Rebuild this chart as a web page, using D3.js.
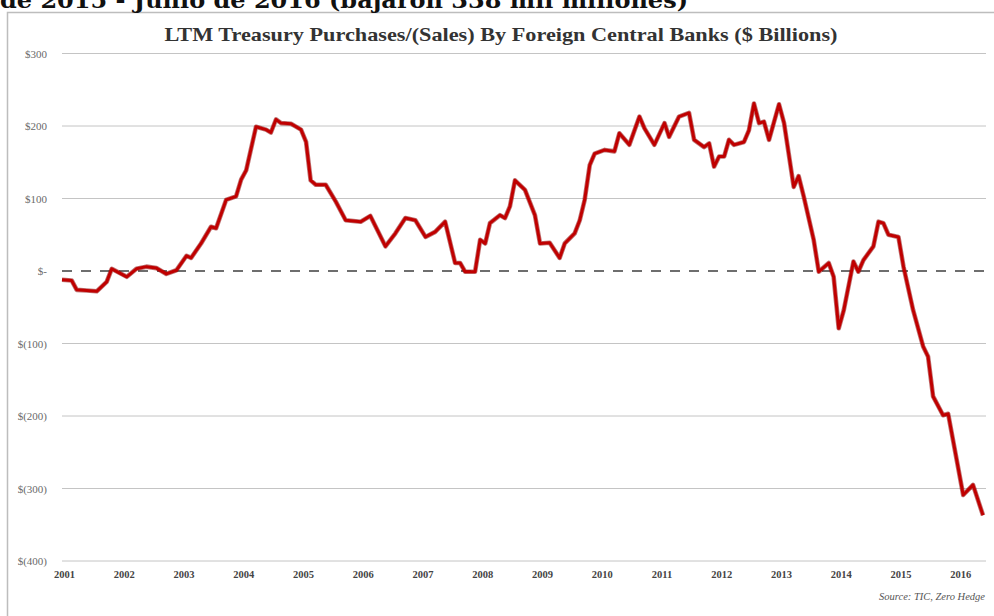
<!DOCTYPE html>
<html><head><meta charset="utf-8">
<script src="https://cdn.jsdelivr.net/npm/d3@7"></script>
<style>body{margin:0;background:#fff}svg{display:block}</style>
</head><body>
<svg id="c" width="994" height="616"></svg>
<script>
const months = ["2001-01","2001-03","2001-04","2001-06","2001-08","2001-10","2001-11","2002-02","2002-04","2002-06","2002-08","2002-10","2002-12","2003-02","2003-03","2003-05","2003-07","2003-08","2003-10","2003-12","2004-01","2004-02","2004-04","2004-06","2004-07","2004-08","2004-09","2004-11","2005-01","2005-02","2005-03","2005-04","2005-06","2005-08","2005-10","2006-01","2006-03","2006-06","2006-08","2006-10","2006-12","2007-02","2007-04","2007-06","2007-08","2007-09","2007-10","2007-12","2008-01","2008-02","2008-03","2008-05","2008-06","2008-07","2008-08","2008-10","2008-12","2009-01","2009-03","2009-05","2009-06","2009-08","2009-09","2009-10","2009-11","2009-12","2010-02","2010-04","2010-05","2010-07","2010-09","2010-10","2010-12","2011-02","2011-03","2011-05","2011-07","2011-08","2011-10","2011-11","2011-12","2012-01","2012-02","2012-03","2012-04","2012-06","2012-07","2012-08","2012-09","2012-10","2012-11","2013-01","2013-02","2013-04","2013-05","2013-06","2013-08","2013-09","2013-11","2013-12","2014-01","2014-02","2014-04","2014-05","2014-06","2014-08","2014-09","2014-10","2014-11","2015-01","2015-02","2015-04","2015-06","2015-07","2015-08","2015-10","2015-11","2016-02","2016-04","2016-06"];
const purchases = [-12,-13,-26,-27,-28,-15,3,-8,3,6,4,-4,1,21,18,38,61,59,98,103,126,139,199,195,191,209,204,203,195,178,125,119,119,96,70,68,76,34,52,73,70,47,54,68,11,11,-1,-1,43,38,66,77,73,89,125,112,77,38,39,18,38,52,70,98,146,162,167,165,190,174,213,197,174,204,185,213,218,181,171,176,144,158,158,181,174,178,194,231,204,206,181,230,204,116,131,103,43,-1,11,-8,-79,-54,13,-1,15,34,68,66,50,47,6,-54,-104,-118,-173,-199,-197,-309,-295,-337];
const yTicks = [300,200,100,0,-100,-200,-300,-400];
const yTickLabels = ["$300","$200","$100","$-","$(100)","$(200)","$(300)","$(400)"];
const yearLabels = ["2001","2002","2003","2004","2005","2006","2007","2008","2009","2010","2011","2012","2013","2014","2015","2016"];
const headline = "de 2015 - Junio de 2016 (bajaron 338 mil millones)";
const chartTitle = "LTM Treasury Purchases/(Sales) By Foreign Central Banks ($ Billions)";
const sourceText = "Source: TIC, Zero Hedge";

const parse = d3.timeParse("%Y-%m");
const data = months.map((m,i)=>({date:parse(m), v:purchases[i]}));
const svg = d3.select("#c");

// frame
svg.append("rect").attr("x",7.5).attr("y",12.5).attr("width",990).attr("height",620)
  .attr("fill","#fff").attr("stroke","#bdbdbd").attr("stroke-width",1.5);

// headline (cut at top, as in the reference)
svg.append("text").attr("x",0).attr("y",8).text(headline)
  .attr("font-family","DejaVu Serif").attr("font-weight","bold").attr("font-size",23)
  .attr("textLength",688).attr("lengthAdjust","spacingAndGlyphs")
  .attr("fill","#111");

const x = d3.scaleTime().domain([parse("2001-01"), parse("2016-06")]).range([62, 983]);
const y = d3.scaleLinear().domain([-400,300]).range([561, 53.5]);

// gridlines
const grid = svg.append("g").attr("class","grid");
grid.selectAll("line").data(yTicks.filter(d=>d!==0)).join("line")
  .attr("x1",62).attr("x2",986).attr("y1",d=>y(d)).attr("y2",d=>y(d))
  .attr("stroke","#c4c4c4").attr("stroke-width",1);

// y axis labels
const yAxis = d3.axisLeft(y).tickValues(yTicks).tickSize(0).tickPadding(0)
  .tickFormat(d=>yTickLabels[yTicks.indexOf(d)]);
const gy = svg.append("g").attr("transform","translate(47,0)").call(yAxis);
gy.select(".domain").remove();
gy.selectAll("text").attr("font-family","Liberation Serif").attr("font-size",11).attr("fill","#6a6a6a");

// zero dashed line
svg.append("line").attr("x1",62).attr("x2",986).attr("y1",y(0)).attr("y2",y(0))
  .attr("stroke","#6e6e6e").attr("stroke-width",2).attr("stroke-dasharray","10,9");

// x axis labels
const yearDates = yearLabels.map(s=>parse(s+"-01"));
const xAxis = d3.axisBottom(x).tickValues(yearDates).tickSize(0).tickPadding(0)
  .tickFormat(d3.timeFormat("%Y"));
const gx = svg.append("g").attr("transform","translate(2,571)").call(xAxis);
gx.select(".domain").remove();
gx.selectAll("text").attr("font-family","Liberation Serif").attr("font-weight","bold")
  .attr("font-size",10.5).attr("fill","#444");

// series line
const line = d3.line().x(d=>x(d.date)).y(d=>y(d.v)).curve(d3.curveLinear);
svg.append("path").datum(data).attr("d",line).attr("fill","none")
  .attr("stroke","#8a0000").attr("stroke-width",4.6).attr("stroke-linejoin","round").attr("opacity",0.55);
svg.append("path").datum(data).attr("d",line).attr("fill","none")
  .attr("stroke","#c00000").attr("stroke-width",3).attr("stroke-linejoin","round");

// title
svg.append("text").attr("x",501).attr("y",41).attr("text-anchor","middle").text(chartTitle)
  .attr("font-family","Liberation Serif").attr("font-weight","bold").attr("font-size",19.5)
  .attr("textLength",673).attr("lengthAdjust","spacingAndGlyphs")
  .attr("fill","#333");

// source
svg.append("text").attr("x",985).attr("y",600).attr("text-anchor","end").text(sourceText)
  .attr("font-family","Liberation Serif").attr("font-style","italic").attr("font-size",10.5)
  .attr("fill","#555");
</script>
</body></html>
